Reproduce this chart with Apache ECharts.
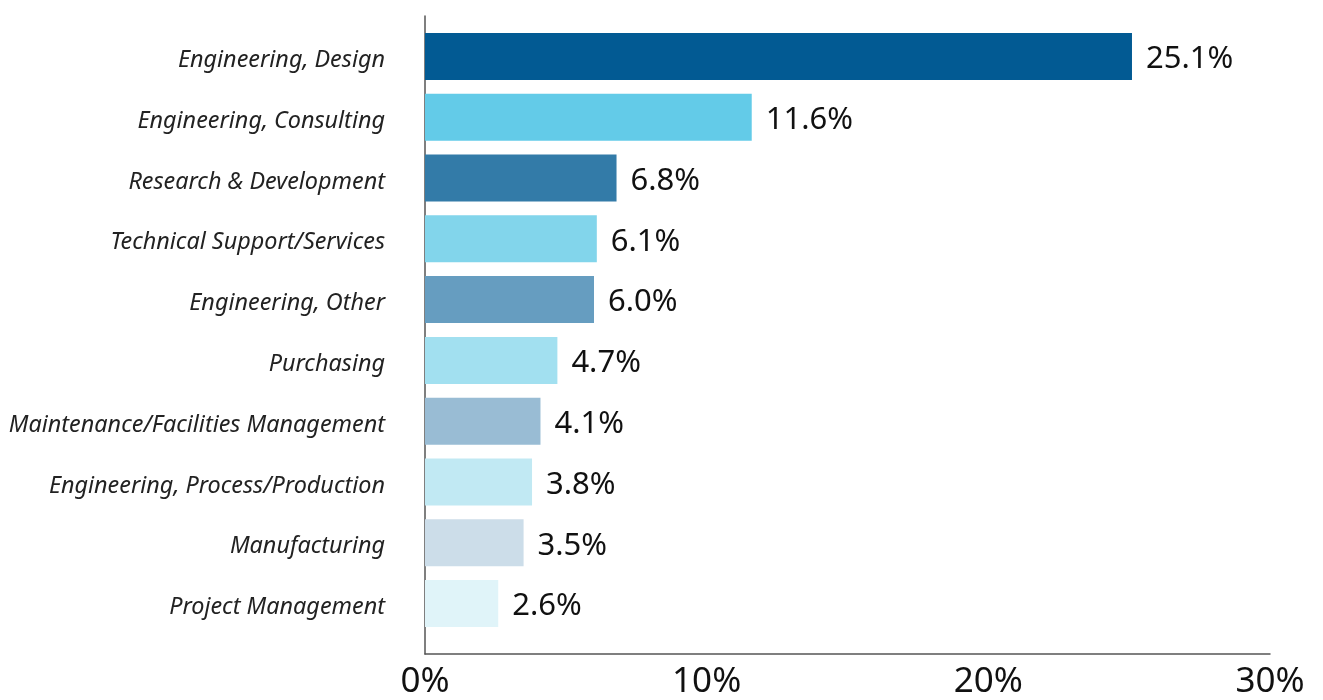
<!DOCTYPE html>
<html>
<head>
<meta charset="utf-8">
<script src="https://cdn.jsdelivr.net/npm/echarts@6/dist/echarts.min.js"></script>
<style>html,body{margin:0;padding:0;background:#fff;}#c{width:1323px;height:700px;}</style>
</head>
<body>
<div id="c"></div>
<script>
var categories = ["Engineering, Design","Engineering, Consulting","Research & Development","Technical Support/Services","Engineering, Other","Purchasing","Maintenance/Facilities Management","Engineering, Process/Production","Manufacturing","Project Management"];
var values = [25.1, 11.6, 6.8, 6.1, 6.0, 4.7, 4.1, 3.8, 3.5, 2.6];
var barColors = ["#025a93","#63cbe8","#337ba8","#82d5eb","#669dc0","#a2e0f0","#99bcd4","#c1e9f3","#ccdde9","#e0f4f9"];
var xTicks = [0, 10, 20, 30];

var chart = echarts.init(document.getElementById('c'));
chart.setOption({
  animation: false,
  grid: [
    {left: 425, right: 53, top: 26, bottom: 66},
    {left: 425, right: 53, top: 16, bottom: 45}
  ],
  xAxis: [
    {gridIndex: 0, type: 'value', min: xTicks[0], max: xTicks[xTicks.length-1], interval: 10, show: false},
    {gridIndex: 1, type: 'value', min: xTicks[0], max: xTicks[xTicks.length-1], interval: 10,
     axisLine: {show: true, lineStyle: {color: '#555', width: 1.5}},
     axisTick: {show: false}, splitLine: {show: false},
     axisLabel: {formatter: '{value}%', fontSize: 35, color: '#111', fontFamily: 'Noto Sans', margin: 11}}
  ],
  yAxis: [
    {gridIndex: 0, type: 'category', data: categories, inverse: true,
     axisLine: {show: false}, axisTick: {show: false},
     axisLabel: {margin: 40,
       formatter: function(v){ return '{a|' + v + '}'; },
       rich: {a: {fontSize: 23.4, fontStyle: 'italic', color: '#222', fontFamily: 'Noto Sans', padding: [8, 0, 0, 0]}}}},
    {gridIndex: 1, type: 'value', min: 0, max: 1, show: true,
     axisLine: {show: true, lineStyle: {color: '#555', width: 1.5}},
     axisTick: {show: false}, axisLabel: {show: false}, splitLine: {show: false}}
  ],
  series: [{
    type: 'bar', xAxisIndex: 0, yAxisIndex: 0,
    barWidth: 47,
    data: values.map(function(v, i){ return {value: v, itemStyle: {color: barColors[i]}}; }),
    label: {show: true, position: 'right', distance: 14, offset: [0, 3], formatter: function(p){ return p.value.toFixed(1) + '%'; },
            fontSize: 31, color: '#111', fontFamily: 'Noto Sans'}
  }]
});
</script>
</body>
</html>
